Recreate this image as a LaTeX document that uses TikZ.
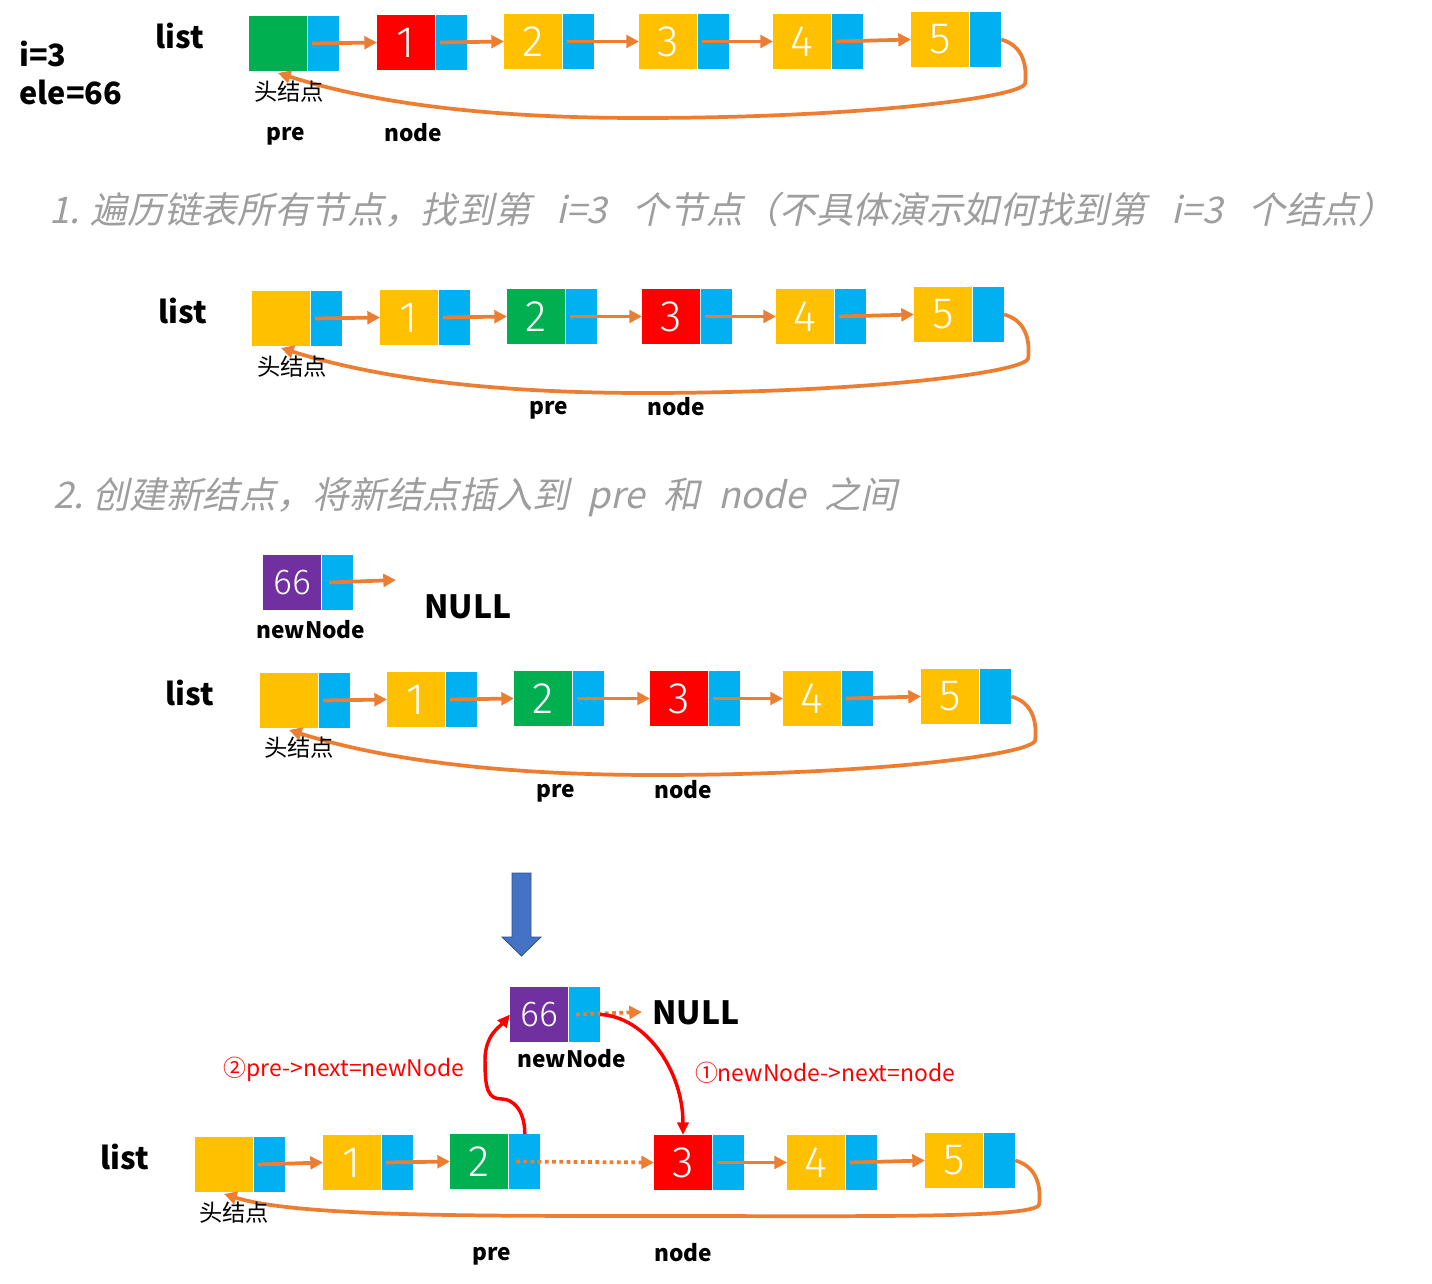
\documentclass[tikz,border=0pt]{standalone}
\usepackage{fontspec}
\setmainfont{Noto Sans CJK SC}
\newfontfamily\slfont{Noto Sans CJK SC}[FakeSlant=0.22]
\newfontfamily\thinfont{Fira Sans}[UprightFont={* Light}]
\usetikzlibrary{arrows.meta,calc}
\definecolor{cgreen}{HTML}{00B050}
\definecolor{cred}{HTML}{FF0000}
\definecolor{cyellow}{HTML}{FFC000}
\definecolor{cblue}{HTML}{00B0F0}
\definecolor{cpurple}{HTML}{7030A0}
\definecolor{corange}{HTML}{ED7D31}
\definecolor{carrow}{HTML}{4472C4}
\definecolor{carrowd}{HTML}{2F528F}
\definecolor{cgrayt}{HTML}{9E9E9E}
\newcommand\lcell[5]{%
  \node[valbox,fill=#4] (#1v) at (#2,#3) {#5};
  \node[ptrbox] (#1p) at ([xshift=1.1pt]#1v.north east) {};}
\newcommand\larr[2]{\draw[oarrow] ([xshift=2.5pt]#1p.west) -- (#2v.west);}
\newcommand\retc[4]{%
  \draw[oarrow] (#1p.east) .. controls +(22,6) and +(2,-18) .. ($(#1p.east)+(24,44)$)
    .. controls +(-4,14) and +(220,0) .. (#3,#4)
    .. controls +(-190,0) and +(70,22) .. ([yshift=-1.5pt]#2v.south);}
\begin{document}
\begin{tikzpicture}[x=0.75pt,y=-0.75pt,
  valbox/.style={anchor=north west, minimum width=43.5pt, minimum height=41.25pt,
    inner sep=0pt, outer sep=0pt, text=white, font=\thinfont\fontsize{33}{33}\selectfont},
  ptrbox/.style={anchor=north west, fill=cblue, minimum width=23pt, minimum height=41.25pt,
    inner sep=0pt, outer sep=0pt},
  oarrow/.style={draw=corange, line width=2.8pt, -{Triangle[length=9.5pt,width=9.5pt]}},
  odot/.style={oarrow, dash pattern=on 2.8pt off 2.6pt},
  rarrow/.style={draw=cred, line width=2.6pt, -{Triangle[length=9.5pt,width=8.5pt]}},
  lbl/.style={font=\bfseries\fontsize{23}{23}\selectfont, inner sep=0pt},
  sml/.style={font=\bfseries\fontsize{17}{17}\selectfont, inner sep=0pt},
  cjk/.style={font=\fontsize{17.5}{17.5}\selectfont, inner sep=0pt},
  nul/.style={font=\bfseries\fontsize{24}{24}\selectfont, inner sep=0pt},
  red/.style={font=\fontsize{17.2}{17.2}\selectfont, text=cred, inner sep=0pt},
  head/.style={font=\slfont\fontsize{27.5}{27.5}\selectfont, text=cgrayt, anchor=west, inner sep=0pt}
]
\useasboundingbox (0,0) rectangle (1432,1284);

% ---------- Row 1
\node[lbl,anchor=west] (ti) at (19,54) {i=3};
\node[lbl,anchor=west] (te) at (19,92) {ele=66};
\node[lbl] (l1) at (180,36) {list};
\lcell{a0}{249}{16}{cgreen}{}
\lcell{a1}{377}{15}{cred}{1}
\lcell{a2}{504}{14}{cyellow}{2}
\lcell{a3}{639}{14}{cyellow}{3}
\lcell{a4}{773}{14}{cyellow}{4}
\lcell{a5}{911}{12}{cyellow}{5}
\larr{a0}{a1}\larr{a1}{a2}\larr{a2}{a3}\larr{a3}{a4}\larr{a4}{a5}
\retc{a5}{a0}{640}{118}
\node[cjk] (h1) at (289,92) {头结点};
\node[sml] (pr1) at (286,136) {pre};
\node[sml] (nd1) at (413,133) {node};

\node[head] (hd1) at (49,210) {1.\hspace{0.3em}遍历链表所有节点，找到第\hspace{0.7em}i=3\hspace{0.7em}个节点（不具体演示如何找到第\hspace{0.7em}i=3\hspace{0.7em}个结点）};

% ---------- Row 2
\node[lbl] (l2) at (183,311) {list};
\lcell{b0}{252}{291}{cyellow}{}
\lcell{b1}{380}{290}{cyellow}{1}
\lcell{b2}{507}{289}{cgreen}{2}
\lcell{b3}{642}{289}{cred}{3}
\lcell{b4}{776}{289}{cyellow}{4}
\lcell{b5}{914}{287}{cyellow}{5}
\larr{b0}{b1}\larr{b1}{b2}\larr{b2}{b3}\larr{b3}{b4}\larr{b4}{b5}
\retc{b5}{b0}{645}{393}
\node[cjk] (h2) at (292,367) {头结点};
\node[sml] (pr2) at (549,410) {pre};
\node[sml] (nd2) at (676,407) {node};

\node[head] (hd2) at (53,497) {2.\hspace{0.25em}创建新结点，将新结点插入到\hspace{0.5em}pre\hspace{0.5em}和\hspace{0.5em}node\hspace{0.5em}之间};

% ---------- newNode (top)
\node[valbox,fill=cpurple,font=\thinfont\fontsize{27}{27}\selectfont] (nv) at (263,555) {66};
\node[ptrbox] (np) at ([xshift=1.1pt]nv.north east) {};
\coordinate (nullA) at (396,580);
\draw[oarrow] ([xshift=5pt]np.west) -- (nullA);
\node[nul] (null1) at (468,607) {NULL};
\node[sml] (nn1) at (311,630) {newNode};

% ---------- Row 3
\node[lbl] (l3) at (190,693) {list};
\lcell{c0}{260}{673}{cyellow}{}
\lcell{c1}{387}{672}{cyellow}{1}
\lcell{c2}{514}{671}{cgreen}{2}
\lcell{c3}{650}{671}{cred}{3}
\lcell{c4}{783}{671}{cyellow}{4}
\lcell{c5}{921}{669}{cyellow}{5}
\larr{c0}{c1}\larr{c1}{c2}\larr{c2}{c3}\larr{c3}{c4}\larr{c4}{c5}
\retc{c5}{c0}{655}{775}
\node[cjk] (h3) at (299,748) {头结点};
\node[sml] (pr3) at (556,793) {pre};
\node[sml] (nd3) at (683,790) {node};

% ---------- big blue arrow
\filldraw[fill=carrow, draw=carrowd, line width=0.6pt]
  (512,873) -- (531,873) -- (531,937) -- (541,937) -- (521.5,956) -- (502,937) -- (512,937) -- cycle;

% ---------- newNode (bottom)
\node[valbox,fill=cpurple,font=\thinfont\fontsize{27}{27}\selectfont] (mv) at (510,987) {66};
\node[ptrbox] (mp) at ([xshift=1.1pt]mv.north east) {};
\coordinate (nullB) at (642,1012);
\draw[odot] ([xshift=5pt]mp.west) -- (nullB);
\node[nul] (null2) at (696,1013) {NULL};
\node[sml] (nn2) at (572,1059) {newNode};

% ---------- Row 4
\node[lbl] (l4) at (125,1157) {list};
\lcell{d0}{195}{1137}{cyellow}{}
\lcell{d1}{323}{1135}{cyellow}{1}
\lcell{d2}{450}{1134}{cgreen}{2}
\lcell{d3}{654}{1135}{cred}{3}
\lcell{d4}{787}{1135}{cyellow}{4}
\lcell{d5}{925}{1133}{cyellow}{5}
\larr{d0}{d1}\larr{d1}{d2}\larr{d3}{d4}\larr{d4}{d5}
\draw[odot] ([xshift=5pt]d2p.west) -- (d3v.west);
\retc{d5}{d0}{650}{1216}
\node[cjk] (h4) at (234,1213) {头结点};
\node[sml] (pr4) at (492,1256) {pre};
\node[sml] (nd4) at (683,1253) {node};

% red arrows
\draw[rarrow] (mp.east) .. controls +(45,2) and +(0,-65) .. (d3v.north);
\draw[rarrow] (d2p.north) .. controls +(0,-25) and +(10,0) .. (502,1099)
  .. controls +(-14,0) and +(0,30) .. (485,1060)
  .. controls +(0,-25) and +(-10,12) .. (mv.west);
\node[red] (lab2) at (344,1069) {②pre->next=newNode};
\node[red] (lab1) at (825,1073) {①newNode->next=node};
\end{tikzpicture}
\end{document}
